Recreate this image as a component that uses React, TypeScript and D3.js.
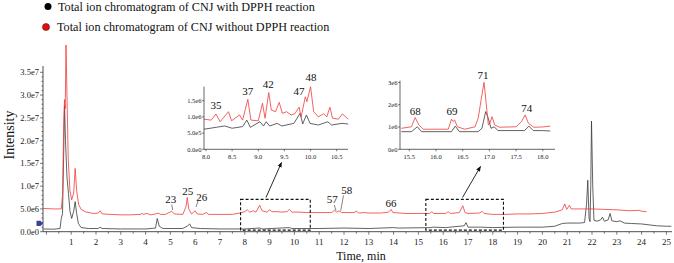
import React from 'react';
import * as d3 from 'd3';

// values in units of 1e6
const redMain: [number, number][] = [
  [-0.12, 5.1], [0.3, 5.0], [0.6, 5.0], [0.65, 8], [0.7, 24], [0.73, 29], [0.76, 27], [0.79, 41], [0.83, 30],
  [0.88, 16], [0.95, 9], [1.02, 7], [1.1, 8.5], [1.16, 13.9], [1.22, 9], [1.3, 6], [1.4, 4.9], [1.6, 4.3],
  [1.9, 4.0], [2.1, 4.1], [2.17, 4.6], [2.25, 3.9], [2.6, 3.8], [3.0, 3.7], [3.4, 3.7], [3.8, 3.8], [3.85, 4.1],
  [3.9, 3.8], [4.05, 4.0], [4.2, 3.7], [4.4, 3.9], [4.5, 4.1], [4.6, 3.8], [4.8, 3.8], [5.05, 4.5], [5.15, 3.9],
  [5.5, 3.8], [5.63, 5.5], [5.68, 7.5], [5.74, 5.0], [5.85, 3.9], [6.0, 4.6], [6.08, 3.9], [6.3, 3.8], [6.45, 4.2],
  [6.55, 3.8], [7.0, 3.8], [7.5, 3.8], [7.8, 4.1], [8.0, 4.4], [8.1, 4.8], [8.2, 4.3], [8.35, 4.6], [8.45, 4.3],
  [8.6, 5.8], [8.7, 4.6], [8.9, 4.3], [9.0, 4.8], [9.1, 4.4], [9.3, 4.4], [9.5, 4.3], [9.7, 4.4], [9.8, 4.9],
  [9.9, 4.3], [10.2, 4.3], [10.5, 4.2], [11.0, 4.2], [11.5, 4.2], [11.62, 4.7], [11.7, 4.3], [11.8, 4.6],
  [11.9, 4.2], [12.4, 4.2], [12.5, 4.5], [12.6, 4.1], [12.8, 4.2], [13.0, 4.1], [13.5, 4.1], [13.8, 4.3],
  [13.9, 4.9], [13.97, 4.2], [14.5, 4.0], [15.0, 4.0], [15.45, 4.0], [15.54, 4.4], [15.62, 4.0], [16.1, 4.0],
  [16.2, 4.4], [16.3, 4.0], [16.65, 4.2], [16.79, 5.7], [16.88, 4.2], [17.0, 4.0], [17.48, 4.1], [17.56, 4.5],
  [17.65, 4.0], [18.0, 3.8], [18.5, 3.8], [19.0, 3.9], [19.5, 3.9], [20.0, 4.0], [20.5, 4.3], [20.8, 4.8],
  [20.9, 6.1], [20.98, 4.9], [21.09, 5.8], [21.16, 5.0], [21.5, 5.0], [22.0, 5.0], [22.5, 4.9], [23.0, 4.8],
  [23.5, 4.6], [23.9, 4.7], [24.0, 4.5], [24.2, 4.4]
];

const blackMain: [number, number][] = [
  [-0.12, 0.6], [0.3, 0.55], [0.55, 0.7], [0.6, 2.9], [0.65, 4], [0.7, 18], [0.73, 27.8], [0.77, 20], [0.83, 12],
  [0.89, 8.4], [0.95, 4.5], [1.02, 2.9], [1.1, 4.5], [1.16, 6.6], [1.22, 4], [1.29, 1.8], [1.4, 0.9], [1.7, 0.7],
  [2.1, 0.7], [2.15, 1.0], [2.25, 0.7], [3.0, 0.6], [4.0, 0.6], [4.4, 0.8], [4.47, 2.9], [4.55, 1.2], [4.7, 0.7],
  [5.5, 0.7], [5.7, 1.3], [5.78, 1.7], [5.85, 0.9], [6.2, 0.7], [7.0, 0.6], [8.0, 0.6], [8.6, 0.8], [8.7, 0.6],
  [9.8, 0.9], [9.9, 0.7], [11.0, 0.7], [12.0, 0.8], [13.0, 0.7], [14.0, 0.9], [14.2, 0.8], [15.5, 0.9],
  [15.6, 1.0], [16.1, 0.9], [16.85, 1.3], [16.92, 2.0], [17.0, 1.0], [17.5, 1.0], [18.0, 0.9], [19.0, 1.0],
  [20.0, 1.0], [20.5, 1.2], [20.8, 1.8], [21.0, 1.9], [21.5, 1.9], [21.7, 2.0], [21.78, 6], [21.83, 11.3],
  [21.88, 3], [21.92, 2.2], [21.95, 10], [21.98, 24.3], [22.03, 10], [22.08, 2.5], [22.2, 2.3], [22.35, 2.6],
  [22.42, 3.2], [22.5, 2.3], [22.65, 2.6], [22.73, 4.0], [22.8, 2.4], [23.0, 2.2], [23.13, 2.4], [23.3, 1.9],
  [23.6, 1.8], [24.0, 1.7], [24.3, 1.5], [24.6, 1.3], [25.0, 1.2], [25.2, 1.2]
];

const redInset1: [number, number][] = [
  [7.96, 0.93], [8.1, 0.9], [8.19, 1.09], [8.27, 0.85], [8.43, 1.16], [8.49, 0.88], [8.64, 1.06], [8.7, 0.9],
  [8.8, 1.54], [8.86, 0.9], [9.0, 0.88], [9.08, 1.42], [9.13, 0.96], [9.2, 1.75], [9.25, 1.21], [9.33, 1.16],
  [9.4, 1.45], [9.46, 1.11], [9.54, 1.16], [9.63, 1.06], [9.7, 1.1], [9.78, 1.3], [9.82, 1.0], [9.9, 1.62],
  [9.93, 1.47], [10.0, 1.93], [10.06, 1.16], [10.15, 1.0], [10.25, 1.1], [10.31, 1.0], [10.37, 1.3],
  [10.42, 0.96], [10.53, 0.93], [10.61, 1.09], [10.72, 0.93]
];
const blackInset1: [number, number][] = [
  [7.96, 0.62], [8.2, 0.68], [8.36, 0.72], [8.5, 0.65], [8.7, 0.7], [8.78, 0.9], [8.85, 0.68], [9.03, 0.85],
  [9.1, 0.72], [9.15, 0.85], [9.22, 0.72], [9.36, 0.8], [9.45, 0.72], [9.68, 0.8], [9.8, 1.11], [9.85, 0.78],
  [9.92, 1.06], [9.99, 0.8], [10.15, 0.75], [10.33, 0.85], [10.4, 0.75], [10.6, 0.8], [10.72, 0.78]
];
const redInset2: [number, number][] = [
  [15.35, 0.94], [15.54, 1.01], [15.61, 1.42], [15.68, 1.09], [15.76, 0.9], [16.23, 0.9], [16.29, 1.35],
  [16.32, 1.25], [16.35, 1.31], [16.4, 1.01], [16.54, 0.9], [16.73, 1.01], [16.79, 1.39], [16.85, 2.29],
  [16.9, 3.0], [16.94, 2.06], [16.98, 1.09], [17.0, 1.12], [17.05, 1.46], [17.1, 1.09], [17.19, 0.99],
  [17.5, 1.01], [17.6, 1.24], [17.67, 1.54], [17.73, 1.17], [17.83, 0.99], [17.99, 1.0], [18.14, 1.04]
];
const blackInset2: [number, number][] = [
  [15.35, 0.79], [15.54, 0.79], [15.65, 1.01], [15.73, 0.79], [16.29, 0.79], [16.36, 1.04], [16.44, 0.79],
  [16.79, 0.79], [16.86, 0.94], [16.93, 1.69], [16.97, 1.46], [17.03, 0.94], [17.09, 1.01], [17.16, 0.84],
  [17.66, 0.84], [17.74, 1.04], [17.82, 0.84], [17.98, 0.84], [18.14, 0.82]
];

const mainYTicks = [0, 5, 10, 15, 20, 25, 30, 35];
const mainYLabels = ['0.0e0', '5.0e6', '1.0e7', '1.5e7', '2.0e7', '2.5e7', '3.0e7', '3.5e7'];
const mainXTicks = d3.range(1, 26);
const inset1XTicks = [8.0, 8.5, 9.0, 9.5, 10.0, 10.5];
const inset1YTicks = [0, 0.5, 1.0, 1.5];
const inset1YLabels = ['0.0e0', '5.0e5', '1.0e6', '1.5e6'];
const inset2XTicks = [15.5, 16.0, 16.5, 17.0, 17.5, 18.0];
const inset2YTicks = [0, 1, 2, 3];
const inset2YLabels = ['0e0', '1e6', '2e6', '3e6'];

const mainPeakLabels: [string, number, number][] = [
  ['23', 5.01, 7.17], ['25', 5.7, 8.99], ['26', 6.26, 7.68], ['57', 11.53, 7.11], ['58', 12.11, 9.14], ['66', 13.9, 6.23]
];
const inset1PeakLabels: [string, number, number][] = [
  ['35', 8.19, 1.35], ['37', 8.8, 1.78], ['42', 9.19, 2.02], ['47', 9.78, 1.78], ['48', 10.01, 2.23]
];
const inset2PeakLabels: [string, number, number][] = [
  ['68', 15.61, 1.73], ['69', 16.3, 1.73], ['71', 16.88, 3.33], ['74', 17.7, 1.84]
];
const zoomBoxes: [number, number][] = [[7.83, 10.64], [15.3, 18.43]];

const RED = '#f03a3a';
const BLK = '#3a3a3a';
const FONT = '"Liberation Serif", "Times New Roman", serif';

export default function App() {
  const x = d3.scaleLinear().domain([0, 25]).range([46.4, 666.4]);
  const y = d3.scaleLinear().domain([0, 35]).range([231.7, 72.3]);
  const line = (xs: d3.ScaleLinear<number, number>, ys: d3.ScaleLinear<number, number>) =>
    d3.line<[number, number]>().x(d => xs(d[0])).y(d => ys(d[1]));
  const mainLine = line(x, y);

  const x1 = d3.scaleLinear().domain([8, 10.5]).range([206, 336.7]);
  const y1 = d3.scaleLinear().domain([0, 1.5]).range([149.3, 100.7]);
  const x2 = d3.scaleLinear().domain([15.5, 18]).range([409.3, 542.8]);
  const y2 = d3.scaleLinear().domain([0, 3]).range([149.3, 82.4]);
  const l1 = line(x1, y1);
  const l2 = line(x2, y2);

  const minorX = d3.range(0, 25.01, 0.5);
  const minorY = d3.range(0, 36, 1);

  const inset = (xs: any, ys: any, lf: any, red: any, blk: any, xt: number[], yt: number[], yl: string[], x0: number, x1e: number, ytop: number, labels: [string, number, number][]) => (
    <g>
      <path d={lf(blk)} fill="none" stroke={BLK} strokeWidth={0.8} />
      <path d={lf(red)} fill="none" stroke={RED} strokeWidth={0.8} />
      <line x1={x0} x2={x0} y1={ytop} y2={ys(0)} stroke="#222" strokeWidth={0.7} />
      <line x1={x0} x2={x1e} y1={ys(0)} y2={ys(0)} stroke="#222" strokeWidth={0.7} />
      {xt.map(t => (
        <g key={'xt' + t}>
          <line x1={xs(t)} x2={xs(t)} y1={ys(0)} y2={ys(0) + 2} stroke="#222" strokeWidth={0.6} />
          <text x={xs(t)} y={ys(0) + 10} fontSize={6.5} textAnchor="middle" fontFamily={FONT} fill="#222">{t.toFixed(1)}</text>
        </g>
      ))}
      {yt.map((v, i) => (
        <g key={'yt' + v}>
          <line x1={x0 - 2} x2={x0} y1={ys(v)} y2={ys(v)} stroke="#222" strokeWidth={0.6} />
          <text x={x0 - 2.5} y={ys(v)} dy="0.35em" fontSize={6.5} textAnchor="end" fontFamily={FONT} fill="#222">{yl[i]}</text>
        </g>
      ))}
      {labels.map(([s, t, v]) => (
        <text key={s} x={xs(t)} y={ys(v)} dy="0.35em" fontSize={11} textAnchor="middle" fontFamily={FONT} fill="#111">{s}</text>
      ))}
    </g>
  );

  return (
    <svg width={674} height={263} style={{ position: 'absolute', left: 0, top: 0, background: '#fff' }}>
      <defs>
        <marker id="ah" viewBox="0 0 10 10" refX="9" refY="5" markerWidth="6" markerHeight="6" orient="auto">
          <path d="M0,1 L10,5 L0,9 z" fill="#111" />
        </marker>
      </defs>
      {/* legend */}
      <circle cx={48} cy={6.5} r={3.5} fill="#000" />
      <text x={58} y={10.5} fontSize={12.2} fontFamily={FONT} fill="#111">Total ion chromatogram of CNJ with DPPH reaction</text>
      <circle cx={46} cy={27} r={3.5} fill="#e01010" stroke="#700" strokeWidth={0.6} />
      <text x={57} y={31} fontSize={12.2} fontFamily={FONT} fill="#111">Total ion chromatogram of CNJ without DPPH reaction</text>

      {/* series */}
      <path d={mainLine(blackMain) || ''} fill="none" stroke={BLK} strokeWidth={0.8} />
      <path d={mainLine(redMain) || ''} fill="none" stroke={RED} strokeWidth={0.8} />

      {/* axes */}
      <line x1={43} x2={43} y1={66} y2={y(0)} stroke="#222" strokeWidth={0.8} />
      <line x1={43} x2={672} y1={y(0)} y2={y(0)} stroke="#222" strokeWidth={0.8} />
      {minorY.map(v => (
        <line key={'my' + v} x1={v % 5 === 0 ? 40 : 41.5} x2={43} y1={y(v)} y2={y(v)} stroke="#222" strokeWidth={0.6} />
      ))}
      {mainYTicks.map((v, i) => (
        <text key={'yl' + v} x={39} y={y(v)} dy="0.35em" fontSize={8.5} textAnchor="end" fontFamily={FONT} fill="#222">{mainYLabels[i]}</text>
      ))}
      {minorX.map(t => (
        <line key={'mx' + t} x1={x(t)} x2={x(t)} y1={y(0)} y2={y(0) + (t % 1 === 0 ? 3 : 2)} stroke="#222" strokeWidth={0.6} />
      ))}
      {mainXTicks.map(t => (
        <text key={'xl' + t} x={x(t)} y={y(0) + 13} fontSize={9} textAnchor="middle" fontFamily={FONT} fill="#222">{t}</text>
      ))}
      <text transform="translate(14,135) rotate(-90)" fontSize={14} textAnchor="middle" fontFamily={FONT} fill="#111">Intensity</text>
      <text x={361} y={260} fontSize={12} textAnchor="middle" fontFamily={FONT} fill="#111">Time, min</text>
      <path d="M36.5,220.8 L40.5,220.8 L43,223.4 L40.5,226 L36.5,226 Z" fill="#3b3fa0" />

      {/* peak labels */}
      {mainPeakLabels.map(([s, t, v]) => (
        <text key={s} x={x(t)} y={y(v)} dy="0.35em" fontSize={11} textAnchor="middle" fontFamily={FONT} fill="#111">{s}</text>
      ))}
      <line x1={171.7} y1={204.5} x2={172.7} y2={210} stroke="#333" strokeWidth={0.6} />
      <line x1={198} y1={201} x2={196} y2={207} stroke="#333" strokeWidth={0.6} />
      <line x1={334.3} y1={205} x2={336} y2={210.7} stroke="#333" strokeWidth={0.6} />
      <line x1={343.5} y1={195.5} x2={340.7} y2={210.7} stroke="#333" strokeWidth={0.6} />

      {/* zoom boxes */}
      {zoomBoxes.map(([a, b]) => (
        <rect key={'b' + a} x={x(a)} y={y(7.1)} width={x(b) - x(a)} height={y(0.35) - y(7.1)} fill="none" stroke="#111" strokeWidth={1.1} strokeDasharray="3,2" />
      ))}
      <line x1={266} y1={197.5} x2={281.5} y2={162.5} stroke="#111" strokeWidth={0.9} markerEnd="url(#ah)" />
      <line x1={462.5} y1={197.5} x2={480.5} y2={166.5} stroke="#111" strokeWidth={0.9} markerEnd="url(#ah)" />

      {inset(x1, y1, l1, redInset1, blackInset1, inset1XTicks, inset1YTicks, inset1YLabels, 204, 348, 86.7, inset1PeakLabels)}
      {inset(x2, y2, l2, redInset2, blackInset2, inset2XTicks, inset2YTicks, inset2YLabels, 400, 555, 80.7, inset2PeakLabels)}
    </svg>
  );
}
